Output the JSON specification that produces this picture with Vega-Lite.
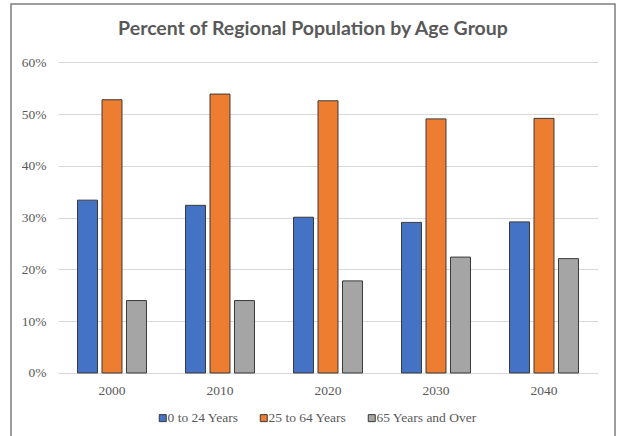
{
  "$schema": "https://vega.github.io/schema/vega-lite/v6.json",
  "autosize": {"type": "none"},
  "padding": {"left": 11, "top": 4, "right": 6, "bottom": 0},
  "width": 604,
  "height": 440,
  "title": {
    "text": "Percent of Regional Population by Age Group",
    "font": "Lato",
    "fontSize": 19.5,
    "fontWeight": "bold",
    "color": "#595959",
    "anchor": "middle",
    "baseline": "middle",
    "offset": -44
  },
  "data": {
    "values": [
      {"year": "2000", "group": "0 to 24 Years", "value": 0.334},
      {"year": "2000", "group": "25 to 64 Years", "value": 0.528},
      {"year": "2000", "group": "65 Years and Over", "value": 0.140},
      {"year": "2010", "group": "0 to 24 Years", "value": 0.324},
      {"year": "2010", "group": "25 to 64 Years", "value": 0.539},
      {"year": "2010", "group": "65 Years and Over", "value": 0.140},
      {"year": "2020", "group": "0 to 24 Years", "value": 0.301},
      {"year": "2020", "group": "25 to 64 Years", "value": 0.526},
      {"year": "2020", "group": "65 Years and Over", "value": 0.178},
      {"year": "2030", "group": "0 to 24 Years", "value": 0.291},
      {"year": "2030", "group": "25 to 64 Years", "value": 0.491},
      {"year": "2030", "group": "65 Years and Over", "value": 0.224},
      {"year": "2040", "group": "0 to 24 Years", "value": 0.292},
      {"year": "2040", "group": "25 to 64 Years", "value": 0.492},
      {"year": "2040", "group": "65 Years and Over", "value": 0.221}
    ]
  },
  "mark": {"type": "bar", "stroke": "#3a3a3a", "strokeWidth": 1},
  "encoding": {
    "x": {
      "field": "year",
      "type": "nominal",
      "scale": {"range": [47, 587], "paddingInner": 0, "paddingOuter": 0},
      "axis": {
        "title": null,
        "orient": "bottom",
        "offset": -71,
        "domain": false,
        "ticks": false,
        "tickSize": 0,
        "grid": false,
        "labelAngle": 0,
        "labelPadding": 10,
        "labelFont": "Liberation Serif",
        "labelFontSize": 13.5,
        "labelColor": "#595959"
      }
    },
    "xOffset": {
      "field": "group",
      "type": "nominal",
      "scale": {"paddingInner": 0.184, "paddingOuter": 0.796}
    },
    "y": {
      "field": "value",
      "type": "quantitative",
      "scale": {"domain": [-0.1372, 0.71304], "nice": false, "zero": false},
      "axis": {
        "title": null,
        "values": [0, 0.1, 0.2, 0.3, 0.4, 0.5, 0.6],
        "format": ".0%",
        "offset": -47,
        "domain": false,
        "ticks": false,
        "tickSize": 0,
        "grid": true,
        "gridColor": "#d9d9d9",
        "gridWidth": 1,
        "labelPadding": 12,
        "labelFont": "Liberation Serif",
        "labelFontSize": 13.5,
        "labelColor": "#595959"
      }
    },
    "color": {
      "field": "group",
      "type": "nominal",
      "scale": {
        "domain": ["0 to 24 Years", "25 to 64 Years", "65 Years and Over"],
        "range": ["#4472C4", "#ED7D31", "#A5A5A5"]
      },
      "legend": {
        "title": null,
        "orient": "none",
        "direction": "horizontal",
        "legendX": 145,
        "legendY": 407,
        "symbolType": "square",
        "symbolSize": 49,
        "symbolStrokeColor": "#3a3a3a",
        "symbolStrokeWidth": 1,
        "labelOffset": -2,
        "columnPadding": 18,
        "labelFont": "Liberation Serif",
        "labelFontSize": 13.5,
        "labelColor": "#595959"
      }
    }
  },
  "config": {
    "view": {"stroke": "#7f7f7f", "strokeWidth": 1.5},
    "background": "white"
  }
}
